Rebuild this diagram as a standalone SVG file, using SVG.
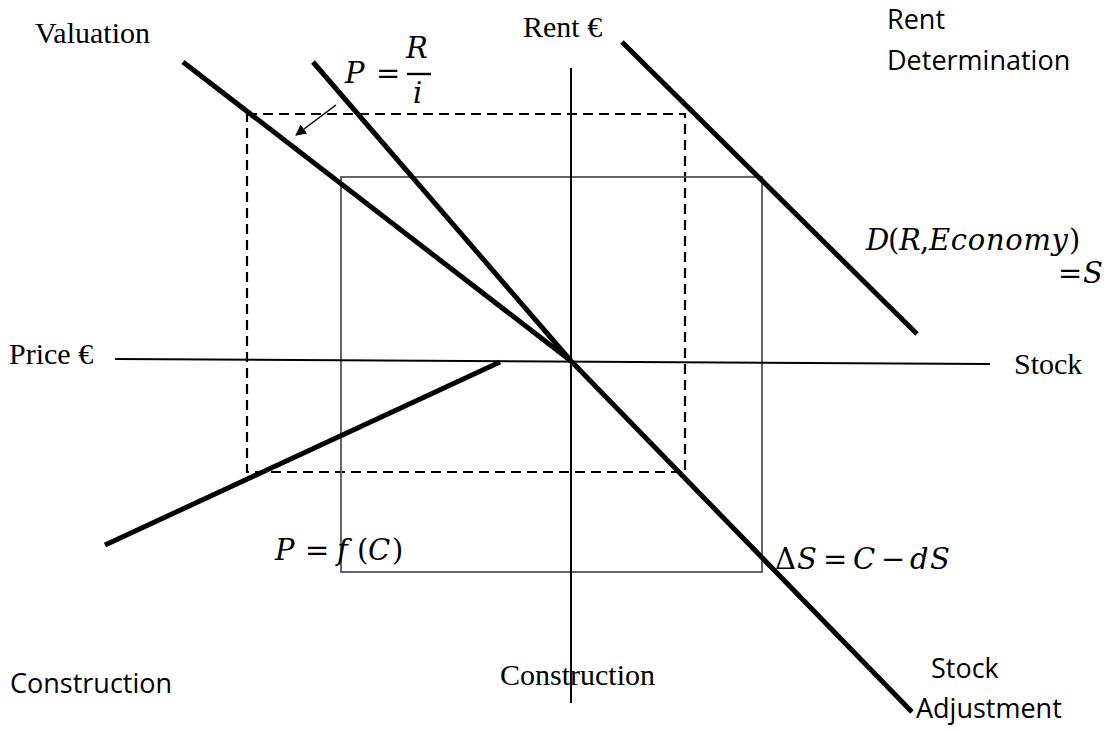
<svg xmlns="http://www.w3.org/2000/svg" width="1116" height="731" viewBox="0 0 1116 731">
<defs>
<style>
.thick{stroke:#000;stroke-width:5;fill:none;stroke-linecap:butt}
.axis{stroke:#000;stroke-width:2;fill:none}
.times{font-family:"Liberation Serif",serif;font-size:30px;fill:#000}
.sans{font-family:"Open Sans","Liberation Sans",sans-serif;font-size:27px;fill:#000}
.math{font-family:"DejaVu Serif","Liberation Serif",serif;font-style:italic;font-size:29px;fill:#000}
.up{font-style:normal}
</style>
<marker id="ah" viewBox="0 0 10 10" refX="9" refY="5" markerWidth="11" markerHeight="11" markerUnits="userSpaceOnUse" orient="auto">
<path d="M0,0 L10,5 L0,10 z" fill="#000"/>
</marker>
</defs>
<rect width="1116" height="731" fill="#fff"/>
<g id="frames">
<rect id="dashed-box" x="247" y="114" width="438" height="358" fill="none" stroke="#000" stroke-width="2.2" stroke-dasharray="10,6"/>
<rect id="gray-box" x="341" y="177" width="421" height="395" fill="none" stroke="#555" stroke-width="1.8"/>
</g>
<g id="connectors">
<line class="axis" x1="115" y1="359" x2="990" y2="364"/>
<line class="axis" x1="571" y1="68" x2="571" y2="703"/>
<line class="thick" x1="183" y1="62" x2="571" y2="361"/>
<line class="thick" x1="313" y1="62" x2="571" y2="361"/>
<line class="thick" x1="571" y1="361" x2="912" y2="712"/>
<line class="thick" x1="622" y1="42" x2="917" y2="334"/>
<line class="thick" x1="105" y1="545" x2="500" y2="362"/>
<line x1="336" y1="105" x2="296" y2="135" stroke="#000" stroke-width="1.5" marker-end="url(#ah)"/>
</g>
<g id="labels">
<text class="times" x="35" y="43">Valuation</text>
<text class="times" x="523" y="37">Rent €</text>
<text class="sans" x="887" y="29">Rent</text>
<text class="sans" x="887" y="70">Determination</text>
<text class="times" x="9" y="364">Price €</text>
<text class="times" x="1014" y="374">Stock</text>
<text class="sans" x="10" y="693">Construction</text>
<text class="times" x="500" y="685">Construction</text>
<text class="sans" x="931" y="678">Stock</text>
<text class="sans" x="916" y="718">Adjustment</text>
</g>
<g id="formulas">
<g id="f-pri">
<text class="math" x="345" y="83">P</text>
<text class="math up" x="376" y="83">=</text>
<text class="math" x="406" y="58">R</text>
<line x1="407" y1="74" x2="431" y2="74" stroke="#000" stroke-width="2.4"/>
<text class="math" x="413" y="103">i</text>
</g>
<g id="f-demand">
<text class="math" y="250"><tspan x="866">D</tspan><tspan class="up" x="888">(</tspan><tspan x="899">R</tspan><tspan class="up" x="920">,</tspan><tspan x="929" textLength="139" lengthAdjust="spacing">Economy</tspan><tspan class="up" x="1069">)</tspan></text>
<text class="math" y="283"><tspan class="up" x="1058">=</tspan><tspan x="1083">S</tspan></text>
</g>
<text id="f-stock" class="math" y="569"><tspan class="up" x="775">Δ</tspan><tspan x="797">S</tspan><tspan class="up" x="823">=</tspan><tspan x="853">C</tspan><tspan class="up" x="881">−</tspan><tspan x="910">d</tspan><tspan x="930">S</tspan></text>
<text id="f-construction" class="math" y="560"><tspan x="275">P</tspan><tspan class="up" x="305">=</tspan><tspan x="337">f</tspan><tspan class="up" x="357">(</tspan><tspan x="368">C</tspan><tspan class="up" x="392">)</tspan></text>
</g>
</svg>
